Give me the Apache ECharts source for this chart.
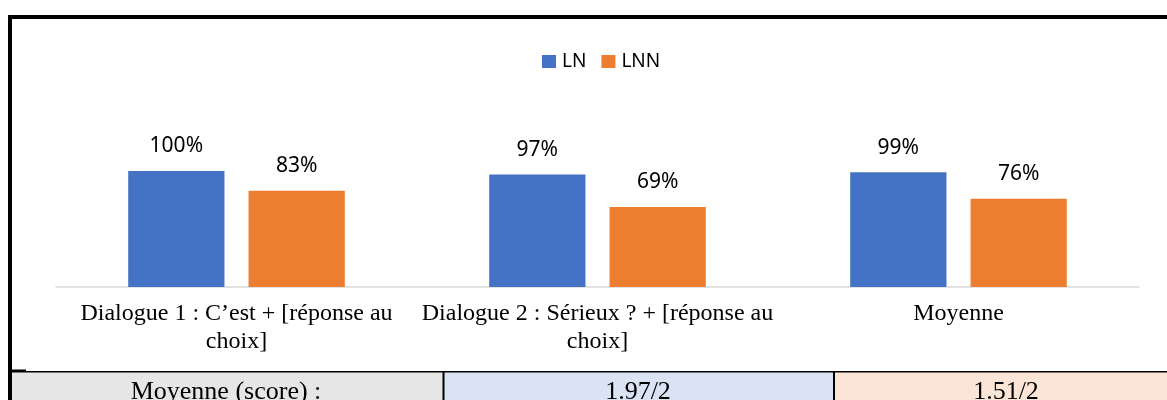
<!DOCTYPE html>
<html>
<head>
<meta charset="utf-8">
<script src="https://cdn.jsdelivr.net/npm/echarts@6/dist/echarts.min.js"></script>
<style>
  html, body { margin: 0; padding: 0; background: #fff; }
  #chart { width: 1167px; height: 400px; }
</style>
</head>
<body>
<div id="chart"></div>
<script>
// données du graphique
var categories = ['Dialogue 1 : C\u2019est + [réponse au choix]', 'Dialogue 2 : Sérieux ? + [réponse au choix]', 'Moyenne'];
var seriesNames = ['LN', 'LNN'];
var lnValues = [100, 97, 99];
var lnnValues = [83, 69, 76];
// ligne du tableau sous le graphique
var tableLabel = 'Moyenne (score) :';
var tableScores = ['1.97/2', '1.51/2'];

var chart = echarts.init(document.getElementById('chart'));

var serif = '"Liberation Serif", "Times New Roman", serif';
var sans = '"Noto Sans", "Open Sans", sans-serif';

var option = {
    animation: false,
    color: ['#4472c4', '#ed7d31'],
    legend: {
        data: seriesNames,
        left: 537,
        top: 47,
        icon: 'rect',
        itemWidth: 14,
        itemHeight: 13,
        itemGap: 15,
        textStyle: { fontFamily: sans, fontSize: 19, color: '#000', padding: [0, 0, 0, 1] }
    },
    grid: { left: 56, right: 28, top: 171, bottom: 113 },
    xAxis: {
        type: 'category',
        data: categories,
        axisLine: { show: true, lineStyle: { color: '#d9d9d9', width: 1.5 } },
        axisTick: { show: false },
        axisLabel: {
            interval: 0,
            margin: 13,
            fontFamily: serif,
            fontSize: 24,
            lineHeight: 28,
            color: '#000',
            // retour à la ligne comme dans Excel
            formatter: function (v) { return v.replace(' choix]', '\nchoix]'); }
        }
    },
    yAxis: {
        type: 'value',
        min: 0,
        max: 100,
        show: false
    },
    series: [{
        name: seriesNames[0],
        type: 'bar',
        data: lnValues,
        barGap: '25%',
        barCategoryGap: '40%',
        label: {
            show: true, position: 'top', distance: 14,
            formatter: '{c}%', fontFamily: sans, fontSize: 21, color: '#000'
        }
    }, {
        name: seriesNames[1],
        type: 'bar',
        data: lnnValues,
        label: {
            show: true, position: 'top', distance: 14,
            formatter: '{c}%', fontFamily: sans, fontSize: 21, color: '#000'
        }
    }],
    graphic: [
        // cadre
        { type: 'rect', shape: { x: 8, y: 15, width: 1159, height: 4 }, style: { fill: '#000' } },
        { type: 'rect', shape: { x: 8, y: 15, width: 4, height: 385 }, style: { fill: '#000' } },
        // tableau
        { type: 'rect', shape: { x: 12, y: 372, width: 431, height: 28 }, style: { fill: '#e7e6e6' } },
        { type: 'rect', shape: { x: 444, y: 372, width: 389, height: 28 }, style: { fill: '#dae3f3' } },
        { type: 'rect', shape: { x: 835, y: 372, width: 332, height: 28 }, style: { fill: '#fbe5d6' } },
        { type: 'rect', shape: { x: 12, y: 371, width: 1155, height: 1.5 }, style: { fill: '#000' } },
        { type: 'rect', shape: { x: 12, y: 369.5, width: 14, height: 2 }, style: { fill: '#000' } },
        { type: 'rect', shape: { x: 442.5, y: 371, width: 2, height: 29 }, style: { fill: '#000' } },
        { type: 'rect', shape: { x: 833, y: 371, width: 2, height: 29 }, style: { fill: '#000' } },
        { type: 'text', x: 226, y: 392, style: { text: tableLabel, font: '26px ' + serif, fill: '#000', textAlign: 'center', textVerticalAlign: 'middle' } },
        { type: 'text', x: 638, y: 392, style: { text: tableScores[0], font: '26px ' + serif, fill: '#000', textAlign: 'center', textVerticalAlign: 'middle' } },
        { type: 'text', x: 1006, y: 392, style: { text: tableScores[1], font: '26px ' + serif, fill: '#000', textAlign: 'center', textVerticalAlign: 'middle' } }
    ]
};

chart.setOption(option);
</script>
</body>
</html>
